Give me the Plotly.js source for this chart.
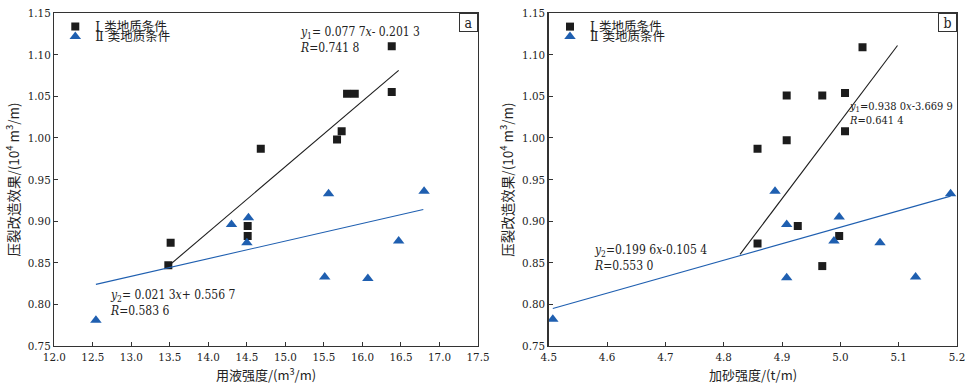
<!DOCTYPE html>
<html><head><meta charset="utf-8">
<script src="https://cdn.plot.ly/plotly-3.0.1.min.js"></script>
<style>body{margin:0;background:#fff}#chart{width:970px;height:388px}</style>
</head><body><div id="chart"></div>
<script>
// ---- data ----
const seriesNames = ['Ⅰ 类地质条件', 'Ⅱ 类地质条件'];

// panel a: 用液强度 vs 压裂改造效果
const aTypeIX = [16.38, 16.38, 15.80, 15.90, 15.73, 15.67, 14.68, 14.51, 14.51, 13.51, 13.48];
const aTypeIY = [1.110, 1.055, 1.053, 1.053, 1.008, 0.998, 0.987, 0.894, 0.882, 0.874, 0.847];
const aTypeIIX = [15.56, 16.80, 14.52, 14.30, 14.50, 16.47, 15.51, 16.07, 12.54];
const aTypeIIY = [0.933, 0.936, 0.904, 0.896, 0.874, 0.876, 0.833, 0.831, 0.781];
const aFitIX = [13.48, 16.47];
const aFitIY = [0.846, 1.081];
const aFitIIX = [12.54, 16.79];
const aFitIIY = [0.824, 0.914];
const aEqI = '<i>y</i><sub>1</sub>= 0.077 7<i>x</i>- 0.201 3<br><i>R</i>=0.741 8';
const aEqII = '<i>y</i><sub>2</sub>= 0.021 3<i>x</i>+ 0.556 7<br><i>R</i>=0.583 6';

// panel b: 加砂强度 vs 压裂改造效果
const bTypeIX = [5.038, 4.908, 4.969, 5.008, 5.008, 4.908, 4.858, 4.927, 4.998, 4.858, 4.969];
const bTypeIY = [1.109, 1.051, 1.051, 1.054, 1.008, 0.997, 0.987, 0.894, 0.882, 0.873, 0.846];
const bTypeIIX = [4.888, 5.189, 4.998, 4.908, 4.989, 5.068, 4.908, 5.129, 4.507];
const bTypeIIY = [0.936, 0.933, 0.905, 0.896, 0.876, 0.874, 0.832, 0.833, 0.782];
const bFitIX = [4.828, 5.098];
const bFitIY = [0.860, 1.111];
const bFitIIX = [4.507, 5.189];
const bFitIIY = [0.795, 0.930];
const bEqI = '<i>y</i><sub>1</sub>=0.938 0<i>x</i>-3.669 9<br><i>R</i>=0.641 4';
const bEqII = '<i>y</i><sub>2</sub>=0.199 6<i>x</i>-0.105 4<br><i>R</i>=0.553 0';

const xTitleA = '用液强度/(m<sup>3</sup>/m)';
const xTitleB = '加砂强度/(t/m)';
const yTitle = '压裂改造效果/(10<sup>4</sup> m<sup>3</sup>/m)';

// ---- styles ----
const num = 'DejaVu Serif Condensed';
const cjk = 'Noto Sans CJK SC';
const legFont = '"DejaVu Serif", "Noto Sans CJK SC"';
const black = '#1c1c1c';
const blue = '#1f5fb0';

function pts(x, y, xa, ya, name, sym, col, size, legend) {
  return {type: 'scatter', mode: 'markers', x: x, y: y, xaxis: xa, yaxis: ya, name: name,
    marker: {symbol: sym, color: col, size: size}, legend: legend, showlegend: true};
}
function fit(x, y, xa, ya, col) {
  return {type: 'scatter', mode: 'lines', x: x, y: y, xaxis: xa, yaxis: ya,
    line: {color: col, width: 1.1}, showlegend: false, hoverinfo: 'skip'};
}

const traces = [
  pts(aTypeIX, aTypeIY, 'x', 'y', seriesNames[0], 'square', black, 8, 'legend'),
  pts(aTypeIIX, aTypeIIY, 'x', 'y', seriesNames[1], 'triangle-up', blue, 10, 'legend3'),
  fit(aFitIX, aFitIY, 'x', 'y', black),
  fit(aFitIIX, aFitIIY, 'x', 'y', blue),
  pts(bTypeIX, bTypeIY, 'x2', 'y2', seriesNames[0], 'square', black, 8, 'legend2'),
  pts(bTypeIIX, bTypeIIY, 'x2', 'y2', seriesNames[1], 'triangle-up', blue, 10, 'legend4'),
  fit(bFitIX, bFitIY, 'x2', 'y2', black),
  fit(bFitIIX, bFitIIY, 'x2', 'y2', blue)
];

function xaxis(domain, range, dtick, anchor) {
  return {domain: domain, range: range, dtick: dtick, tick0: range[0], tickformat: '.1f',
    showline: true, mirror: true, linecolor: '#333', linewidth: 1.3,
    ticks: 'inside', ticklen: 4, tickcolor: '#333', showgrid: false, zeroline: false,
    tickfont: {family: num, size: 11.5, color: '#222'}, anchor: anchor};
}
function yaxis(anchor) {
  return {domain: [0, 1], range: [0.75, 1.15], dtick: 0.05, tick0: 0.75, tickformat: '.2f',
    showline: true, mirror: true, linecolor: '#333', linewidth: 1.3,
    ticks: 'inside', ticklen: 4, tickcolor: '#333', showgrid: false, zeroline: false,
    tickfont: {family: num, size: 11.5, color: '#222'}, anchor: anchor,
    title: {text: yTitle, font: {family: cjk, size: 13.5, color: '#222'}, standoff: 5}};
}

function eq(xref, yref, x, y, xanchor, size, text) {
  return {xref: xref, yref: yref, x: x, y: y, text: text, showarrow: false,
    xanchor: xanchor, yanchor: 'top', align: 'left',
    font: {family: num, size: size, color: '#222'}};
}
function xt(xref, yref, text) {
  return {xref: xref, yref: yref, x: 0.5, y: -0.085, xanchor: 'center', yanchor: 'middle', text: text,
    showarrow: false, font: {family: cjk, size: 13, color: '#222'}};
}
function tag(xref, yref, text) {
  return {xref: xref, yref: yref, x: 1, y: 1, xanchor: 'right', yanchor: 'top', text: text,
    showarrow: false, bordercolor: '#333', borderwidth: 1, borderpad: 1,
    width: 15, height: 15, font: {family: num, size: 14, color: '#222'}};
}

const legendStyle = (x, y) => ({x: x, y: y, xref: 'paper', yref: 'paper', xanchor: 'left', yanchor: 'middle',
  bgcolor: 'rgba(0,0,0,0)', borderwidth: 0, tracegroupgap: 0, itemwidth: 30,
  font: {family: legFont, size: 12.5, color: '#222'}});

const layout = {
  width: 970, height: 388,
  margin: {l: 0, r: 0, t: 13, b: 42},
  paper_bgcolor: '#fff', plot_bgcolor: '#fff',
  xaxis: xaxis([0.056, 0.4928], [12.0, 17.5], 0.5, 'y'),
  yaxis: yaxis('x'),
  xaxis2: xaxis([0.5657, 0.9866], [4.5, 5.2], 0.1, 'y2'),
  yaxis2: yaxis('x2'),
  legend: legendStyle(0.057, 0.958),
  legend3: legendStyle(0.057, 0.928),
  legend2: legendStyle(0.567, 0.958),
  legend4: legendStyle(0.567, 0.928),
  annotations: [
    eq('x', 'y', 15.16, 1.138, 'left', 12, aEqI),
    eq('x', 'y', 12.70, 0.822, 'left', 12, aEqII),
    eq('x2', 'y2', 5.196, 1.048, 'right', 11, bEqI),
    eq('x2', 'y2', 4.575, 0.876, 'left', 12, bEqII),
    xt('x domain', 'y domain', xTitleA),
    xt('x2 domain', 'y2 domain', xTitleB),
    tag('x domain', 'y domain', 'a'),
    tag('x2 domain', 'y2 domain', 'b')
  ]
};

Plotly.newPlot('chart', traces, layout, {displayModeBar: false, staticPlot: true});
</script>
</body></html>
